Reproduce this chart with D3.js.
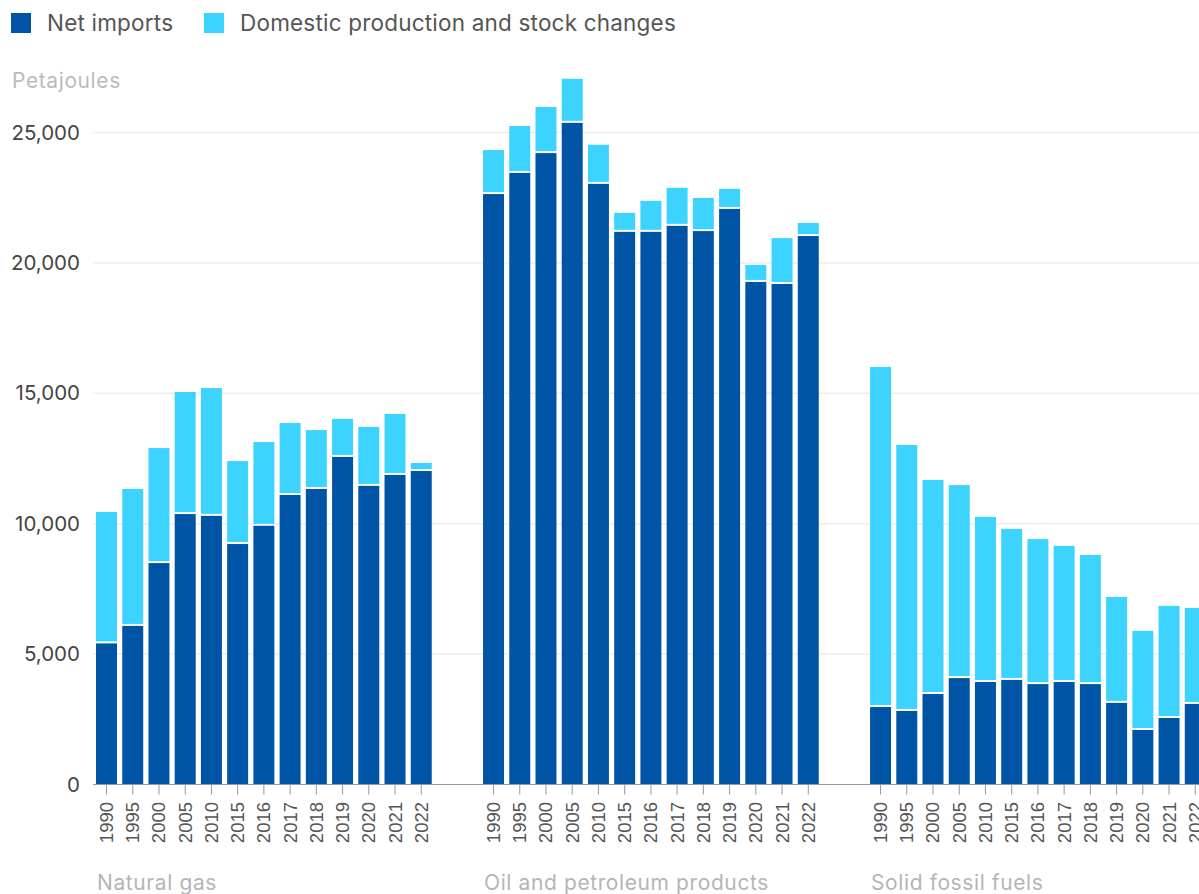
<!DOCTYPE html>
<html>
<head>
<meta charset="utf-8">
<script src="https://cdn.jsdelivr.net/npm/d3@7"></script>
<style>
  body { margin: 0; background: #fff; }
  svg { display: block; font-family: Inter, "Liberation Sans", sans-serif; }
</style>
</head>
<body>
<script>
let width = 1199;
let height = 894;

// data (petajoules)
let groups = ['Natural gas', 'Oil and petroleum products', 'Solid fossil fuels'];
let years = ['1990', '1995', '2000', '2005', '2010', '2015', '2016', '2017', '2018', '2019', '2020', '2021', '2022'];
let seriesNames = ['Net imports', 'Domestic production and stock changes'];
let colors = ['#0054a5', '#3dd3ff'];

let gasImports = [5410, 6080, 8490, 10370, 10300, 9220, 9920, 11100, 11330, 12560, 11450, 11870, 12020];
let gasDomestic = [5040, 5250, 4410, 4680, 4900, 3180, 3210, 2760, 2260, 1460, 2260, 2340, 310];
let oilImports = [22640, 23450, 24210, 25370, 23030, 21190, 21190, 21420, 21220, 22070, 19270, 19190, 21030];
let oilDomestic = [1690, 1800, 1770, 1690, 1500, 730, 1190, 1460, 1270, 770, 650, 1760, 500];
let solidImports = [2970, 2820, 3470, 4080, 3930, 4010, 3850, 3930, 3850, 3130, 2090, 2550, 3090];
let solidDomestic = [13040, 10200, 8210, 7400, 6330, 5790, 5560, 5220, 4950, 4060, 3800, 4300, 3680];

let yTicks = [0, 5000, 10000, 15000, 20000, 25000];

let importsByGroup = [gasImports, oilImports, solidImports];
let domesticByGroup = [gasDomestic, oilDomestic, solidDomestic];

let rows = [];
groups.forEach(function(g, gi){
    years.forEach(function(yr, i){
        rows.push({group: g, year: yr, imports: importsByGroup[gi][i], domestic: domesticByGroup[gi][i]});
    });
});

let x0 = d3.scaleBand()
.domain(groups)
.range([93.4, 1208.4])
.paddingInner(0.119)
.paddingOuter(0);

let x1 = d3.scaleBand()
.domain(years)
.range([0, x0.bandwidth()])
.paddingInner(0.2)
.paddingOuter(0.1);

let y = d3.scaleLinear()
.domain([0, 25000])
.range([784.5, 132.5]);

let svg = d3.select('body')
.append('svg')
.attr('width', width)
.attr('height', height);

// legend
let legend = svg.append('g');
let legendX = [11, 204];
seriesNames.forEach(function(name, i){
    legend.append('rect')
    .attr('x', legendX[i])
    .attr('y', 13)
    .attr('width', 20)
    .attr('height', 20)
    .attr('fill', colors[i]);
    legend.append('text')
    .attr('x', legendX[i] + 36)
    .attr('y', 31)
    .attr('font-size', 22.5)
    .attr('letter-spacing', 0.2)
    .attr('fill', '#555')
    .text(name);
});

svg.append('text')
.attr('x', 12)
.attr('y', 88)
.attr('font-size', 21)
.attr('letter-spacing', 0.6)
.attr('fill', '#bbb')
.text('Petajoules');

// gridlines + y labels
svg.append('g')
.selectAll('line')
.data(yTicks.filter(function(d){ return d > 0; }))
.enter()
.append('line')
.attr('x1', 93)
.attr('x2', width)
.attr('y1', function(d){ return y(d); })
.attr('y2', function(d){ return y(d); })
.attr('stroke', '#ededed')
.attr('stroke-width', 1.5);

svg.append('g')
.selectAll('text')
.data(yTicks)
.enter()
.append('text')
.attr('x', 80)
.attr('y', function(d){ return y(d); })
.attr('dy', '0.35em')
.attr('text-anchor', 'end')
.attr('font-size', 20.5)
.attr('fill', '#444')
.text(function(d){ return d3.format(',')(d); });

// bars
let bars = svg.append('g');
let bw = x1.bandwidth();

bars.selectAll('rect.imp')
.data(rows)
.enter()
.append('rect')
.attr('class', 'imp')
.attr('x', function(d){ return x0(d.group) + x1(d.year); })
.attr('y', function(d){ return y(d.imports); })
.attr('width', bw)
.attr('height', function(d){ return y(0) - y(d.imports); })
.attr('fill', colors[0]);

bars.selectAll('rect.dom')
.data(rows)
.enter()
.append('rect')
.attr('class', 'dom')
.attr('x', function(d){ return x0(d.group) + x1(d.year); })
.attr('y', function(d){ return y(d.imports + d.domestic); })
.attr('width', bw)
.attr('height', function(d){ return Math.max(0, y(d.imports) - y(d.imports + d.domestic) - 2); })
.attr('fill', colors[1]);

// x axis
let axis = svg.append('g');
axis.append('line')
.attr('x1', 93)
.attr('x2', width)
.attr('y1', y(0))
.attr('y2', y(0))
.attr('stroke', '#999')
.attr('stroke-width', 1.2);

groups.forEach(function(g){
    let gx = x0(g);
    let ga = axis.append('g');
    ga.selectAll('line')
    .data(years)
    .enter()
    .append('line')
    .attr('x1', function(d){ return gx + x1(d) + bw / 2; })
    .attr('x2', function(d){ return gx + x1(d) + bw / 2; })
    .attr('y1', y(0))
    .attr('y2', y(0) + 10)
    .attr('stroke', '#999')
    .attr('stroke-width', 1);

    ga.selectAll('text')
    .data(years)
    .enter()
    .append('text')
    .attr('transform', function(d){
        return 'translate(' + (gx + x1(d) + bw / 2) + ',' + 802 + ') rotate(-90)';
    })
    .attr('dy', '0.35em')
    .attr('text-anchor', 'end')
    .attr('font-family', '"Liberation Sans", Arial, sans-serif')
    .attr('font-size', 18.5)
    .attr('fill', '#555')
    .text(function(d){ return d; });

    axis.append('text')
    .attr('x', gx + x1(years[0]) + 1)
    .attr('y', 890)
    .attr('font-size', 21)
    .attr('letter-spacing', 0.6)
    .attr('fill', '#b5b5b5')
    .text(g);
});
</script>
</body>
</html>
